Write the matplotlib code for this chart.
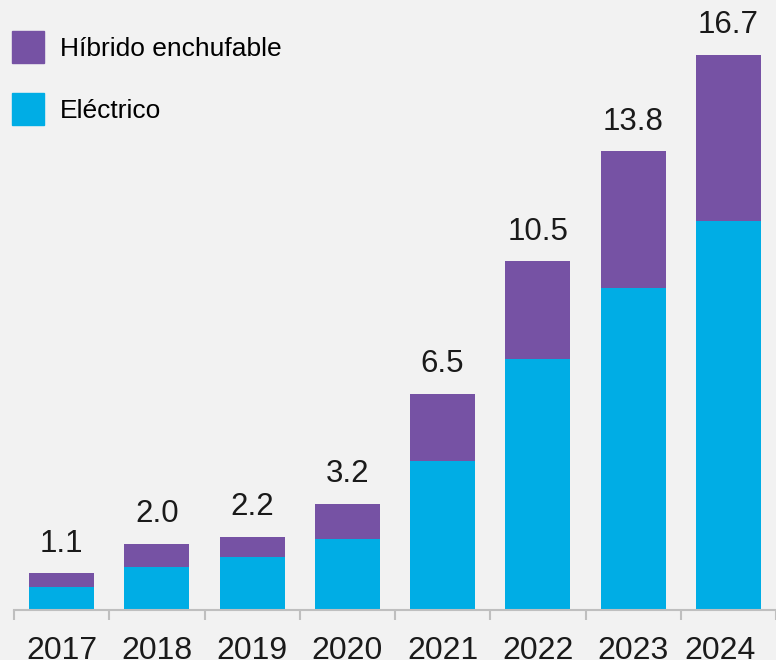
import matplotlib
matplotlib.use("Agg")
import matplotlib.pyplot as plt
import matplotlib.patches as mpatches
import matplotlib.transforms as mtransforms
import numpy as np

plt.rcParams["font.family"] = ["Liberation Sans", "DejaVu Sans"]

years = ["2017", "2018", "2019", "2020", "2021", "2022", "2023", "2024"]
electric = [0.70, 1.30, 1.60, 2.14, 4.48, 7.55, 9.69, 11.71]
phev = [0.40, 0.70, 0.60, 1.06, 2.02, 2.95, 4.11, 4.99]

BG = "#f2f2f2"
C_EV = "#00ade5"
C_PHEV = "#7652a4"
AXIS = "#bfbfbf"

W, H = 776, 660
fig = plt.figure(figsize=(W / 100, H / 100), dpi=100, facecolor=BG)
# axes: left edge at x=14 px, baseline at y=610 px, top at figure top
ax = fig.add_axes([14 / W, (H - 610) / H, 1 - 14 / W, 610 / H], facecolor=BG)

x = np.arange(len(years))
ax.bar(x, electric, width=0.68, color=C_EV, linewidth=0)
ax.bar(x, phev, width=0.68, bottom=electric, color=C_PHEV, linewidth=0)

totals = [round(e + p, 1) for e, p in zip(electric, phev)]
for xi, t in zip(x, totals):
    ax.annotate(f"{t:.1f}", xy=(xi, t), xytext=(0, 10.5), textcoords="offset points",
                ha="center", va="bottom", fontsize=22.5, color="#1a1a1a")

ax.set_xlim(-0.5, (W - 14) / 96 - 0.5)
ax.set_ylim(0, 610 / 33.23)

for s in ["top", "right", "left"]:
    ax.spines[s].set_visible(False)
ax.spines["bottom"].set_color(AXIS)
ax.spines["bottom"].set_linewidth(1.5)
ax.set_yticks([])

ax.set_xticks(x)
ax.set_xticklabels(years, fontsize=23, color="#1a1a1a")
ax.tick_params(axis="x", which="major", length=0, pad=19)
ax.set_xticks(np.arange(len(years) + 1) - 0.5, minor=True)
ax.tick_params(axis="x", which="minor", length=7, width=1.5, color=AXIS)

# last label is nudged left so it stays inside the picture
last = ax.get_xticklabels()[-1]
last.set_transform(last.get_transform() +
                   mtransforms.ScaledTranslation(-8 / 100, 0, fig.dpi_scale_trans))

handles = [mpatches.Patch(color=C_PHEV, label="Híbrido enchufable"),
           mpatches.Patch(color=C_EV, label="Eléctrico")]
fig.legend(handles=handles, loc="upper left", bbox_to_anchor=(12 / W, 1 - 31 / H),
           frameon=False, fontsize=19, handlelength=1.21, handleheight=1.49,
           labelspacing=1.14, handletextpad=0.6, borderpad=0, borderaxespad=0)

fig.savefig("out.png", dpi=100, facecolor=BG)
